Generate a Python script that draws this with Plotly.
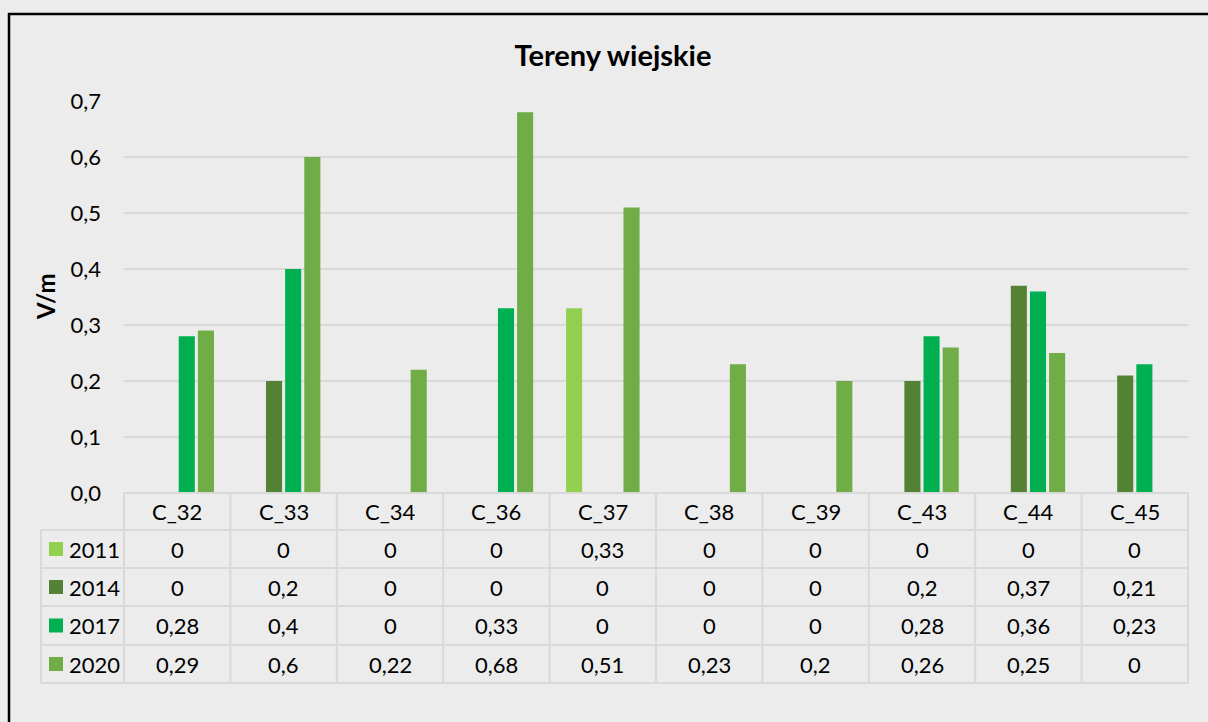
import plotly.graph_objects as go

categories = ["C_32", "C_33", "C_34", "C_36", "C_37", "C_38", "C_39", "C_43", "C_44", "C_45"]
years = ["2011", "2014", "2017", "2020"]
v2011 = [0, 0, 0, 0, 0.33, 0, 0, 0, 0, 0]
v2014 = [0, 0.2, 0, 0, 0, 0, 0, 0.2, 0.37, 0.21]
v2017 = [0.28, 0.4, 0, 0.33, 0, 0, 0, 0.28, 0.36, 0.23]
v2020 = [0.29, 0.6, 0.22, 0.68, 0.51, 0.23, 0.2, 0.26, 0.25, 0]
series = [v2011, v2014, v2017, v2020]
colors = ["#92D050", "#548235", "#00B050", "#70AD47"]

W, H = 1208, 722
BG = "#ECECEC"
FONT = "Lato, 'Open Sans', sans-serif"

def px(x):
    return x / W

def py(y):
    return 1 - y / H

plot_l, plot_r, plot_t, plot_b = 124, 1188, 101, 493
fig = go.Figure()
for name, vals, col in zip(years, series, colors):
    fig.add_trace(go.Bar(x=categories, y=vals, name=name, marker=dict(color=col, line=dict(width=0))))

grid = "#D9D9D9"
shapes = []
# outer border (continues past the right and bottom edges)
shapes.append(dict(type="rect", xref="paper", yref="paper", x0=px(9), x1=px(1240), y0=py(14), y1=py(780),
                   line=dict(color="black", width=2.5), fillcolor="rgba(0,0,0,0)", layer="below"))
# table geometry
row_tops = [493, 530, 568, 606, 645, 683]
tbl_left = 41
colw = (plot_r - plot_l) / len(categories)
shapes.append(dict(type="line", xref="paper", yref="paper", x0=px(plot_l), x1=px(plot_r), y0=py(493), y1=py(493),
                   line=dict(color=grid, width=2)))
for y in row_tops[1:]:
    shapes.append(dict(type="line", xref="paper", yref="paper", x0=px(tbl_left), x1=px(plot_r), y0=py(y), y1=py(y),
                       line=dict(color=grid, width=2)))
for k in range(len(categories) + 1):
    x = plot_l + k * colw
    shapes.append(dict(type="line", xref="paper", yref="paper", x0=px(x), x1=px(x), y0=py(493), y1=py(683),
                       line=dict(color=grid, width=2)))
shapes.append(dict(type="line", xref="paper", yref="paper", x0=px(tbl_left), x1=px(tbl_left), y0=py(530), y1=py(683),
                   line=dict(color=grid, width=2)))

TXT = 22
annotations = []
hy = (row_tops[0] + row_tops[1]) / 2
for c in categories:
    annotations.append(dict(x=c, xref="x", y=py(hy), yref="paper", text=c, showarrow=False,
                            font=dict(family=FONT, size=TXT, color="#000000"), xanchor="center", yanchor="middle"))

def fmt(v):
    return ("%g" % v).replace(".", ",")

for i, (name, vals, col) in enumerate(zip(years, series, colors)):
    cy = (row_tops[i + 1] + row_tops[i + 2]) / 2
    shapes.append(dict(type="rect", xref="paper", yref="paper", x0=px(49), x1=px(63), y0=py(cy - 7), y1=py(cy + 7),
                       fillcolor=col, line=dict(width=0)))
    annotations.append(dict(x=px(67), xref="paper", y=py(cy), yref="paper", text=name, showarrow=False,
                            font=dict(family=FONT, size=TXT, color="#000000"), xanchor="left", yanchor="middle"))
    for c, v in zip(categories, vals):
        annotations.append(dict(x=c, xref="x", y=py(cy), yref="paper", text=fmt(v), showarrow=False,
                                font=dict(family=FONT, size=TXT, color="#000000"), xanchor="center", yanchor="middle"))

annotations.append(dict(x=px(46), xref="paper", y=py(297), yref="paper", text="<b>V/m</b>",
                        textangle=-90, showarrow=False, font=dict(family=FONT, size=24, color="#000000"),
                        xanchor="center", yanchor="middle"))

fig.update_layout(
    width=W, height=H,
    margin=dict(l=0, r=0, t=0, b=0),
    paper_bgcolor=BG, plot_bgcolor=BG,
    template="none",
    separators=", ",
    title=dict(text="<b>Tereny wiejskie</b>", x=px(613), xanchor="center", y=py(56), yanchor="middle",
               font=dict(family=FONT, size=29, color="#000000")),
    showlegend=False,
    barmode="group", bargap=0.28, bargroupgap=0.16,
    xaxis=dict(domain=[px(plot_l), px(plot_r)], showticklabels=False, showgrid=False, ticks="",
               showline=False, zeroline=False, fixedrange=True),
    yaxis=dict(domain=[py(plot_b), py(plot_t)], range=[0, 0.7], dtick=0.1, tickformat=".1f",
               showgrid=True, gridcolor=grid, gridwidth=2, zeroline=False, showline=False, ticks="",
               ticklabelstandoff=22, tickfont=dict(family=FONT, size=22, color="#000000")),
    shapes=shapes,
    annotations=annotations,
)

post = ("document.documentElement.style.margin='0';document.body.style.margin='0';"
        "document.body.style.overflow='hidden';document.body.style.background='" + BG + "';"
        "document.documentElement.style.background='" + BG + "';")
fig.write_html("out.html", post_script=post, config={"displayModeBar": False})
